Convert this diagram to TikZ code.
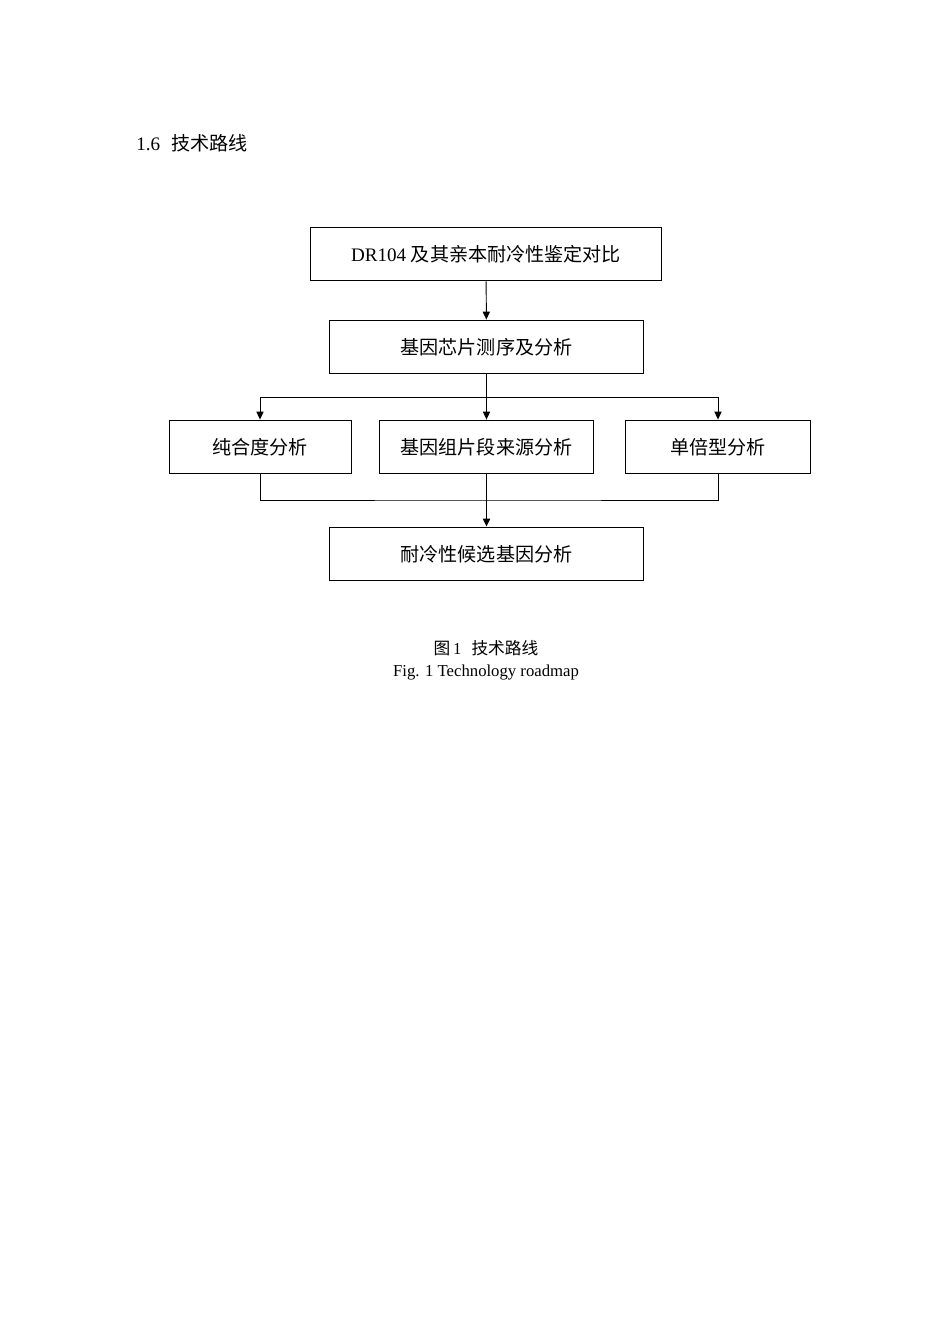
\documentclass[tikz,border=0pt]{standalone}
\usepackage{fontspec}
\setmainfont{Liberation Serif}
\newfontfamily\cjk{Noto Sans CJK SC}
\usetikzlibrary{arrows.meta, positioning, calc}

\begin{document}
\begin{tikzpicture}[x=0.0221cm, y=-0.0221cm,
  stepbox/.style={rectangle,draw=black,line width=0.6pt,minimum height=1.19cm,
                  inner sep=2pt,align=center,font=\fontsize{12}{14}\selectfont},
  flow/.style={-{Triangle[length=5pt,width=4.5pt]},line width=0.6pt},
  plain/.style={line width=0.6pt}
]
  \useasboundingbox (0,0) rectangle (950,1344);

  % heading
  \node[anchor=west,inner sep=0pt,font=\fontsize{12}{14}\selectfont] (head) at (136,143)
    {1.6\hspace{0.6em}{\cjk 技术路线}};

  \node[stepbox,minimum width=7.74cm] (cold)  at (486,254)   {DR104 {\cjk 及其亲本耐冷性鉴定对比}};
  \node[stepbox,minimum width=6.92cm] (chip)  at (486.5,347) {\cjk 基因芯片测序及分析};
  \node[stepbox,minimum width=4.02cm] (pure)  at (260,447)   {\cjk 纯合度分析};
  \node[stepbox,minimum width=4.71cm] (seg)   at (486.5,447) {\cjk 基因组片段来源分析};
  \node[stepbox,minimum width=4.07cm] (hap)   at (718,447)   {\cjk 单倍型分析};
  \node[stepbox,minimum width=6.92cm] (cand)  at (486.5,554) {\cjk 耐冷性候选基因分析};

  \coordinate (split) at (486.5,397);
  \coordinate (merge) at (486.5,500);

  \draw[flow]  (cold) -- (chip);
  \draw[plain,line width=0.9pt] (chip) -- (split);
  \draw[flow]  (split) -| (pure.north);
  \draw[flow]  (split) -| (hap.north);
  \draw[flow]  (split) -- (seg.north);
  \draw[plain] (pure.south) |- (merge) -| (hap.south);
  \draw[flow,line width=0.9pt] (seg.south) -- (cand.north);

  % caption
  \node[inner sep=0pt,font=\fontsize{10.5}{12}\selectfont] (capcn) at (486,648) {{\cjk 图}\,1\hspace{0.6em}{\cjk 技术路线}};
  \node[inner sep=0pt,font=\fontsize{10.5}{12}\selectfont] (capen) at (486,673) {Fig. 1 Technology roadmap};
\end{tikzpicture}
\end{document}
